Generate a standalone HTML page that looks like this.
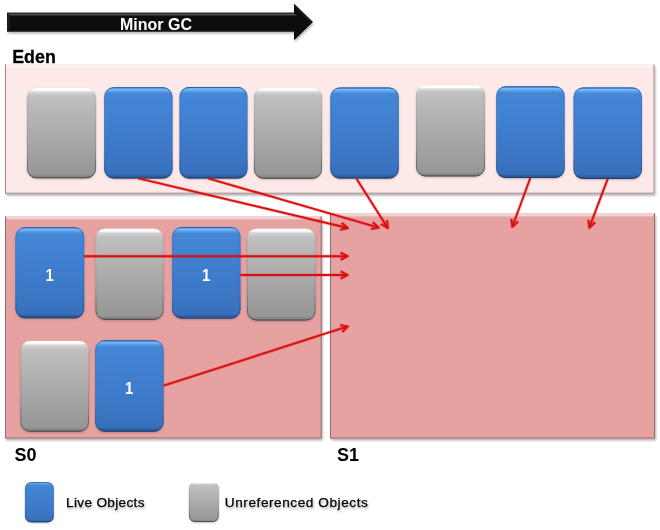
<!DOCTYPE html>
<html><head><meta charset="utf-8"><style>
html,body{margin:0;padding:0;background:#fff;width:660px;height:530px;overflow:hidden}
svg{display:block;will-change:transform}
text{font-family:"Liberation Sans",sans-serif}
.lbl{font-weight:bold;font-size:18px;fill:#000}
.num{font-weight:bold;font-size:16.5px;fill:#fff}
.leg{font-size:13.6px;fill:#000;stroke:#000;stroke-width:0.25}
</style></head><body>
<svg width="660" height="530" viewBox="0 0 660 530">
<defs>
<linearGradient id="gb" x1="0" y1="0" x2="0" y2="1">
<stop offset="0" stop-color="#4588d8"/><stop offset="0.5" stop-color="#3f7dcc"/><stop offset="0.94" stop-color="#3870bd"/><stop offset="1" stop-color="#3064aa"/></linearGradient>
<linearGradient id="gg" x1="0" y1="0" x2="0" y2="1">
<stop offset="0" stop-color="#cacaca"/><stop offset="0.15" stop-color="#bcbcbc"/><stop offset="1" stop-color="#949494"/></linearGradient>
<linearGradient id="hb" x1="0" y1="0" x2="0" y2="1">
<stop offset="0.01" stop-color="#80c4ff" stop-opacity="0"/><stop offset="0.02" stop-color="#80c4ff" stop-opacity="0.95"/><stop offset="0.035" stop-color="#80c4ff" stop-opacity="0.6"/><stop offset="0.07" stop-color="#80c4ff" stop-opacity="0"/>
<stop offset="0.95" stop-color="#000" stop-opacity="0"/><stop offset="1" stop-color="#000" stop-opacity="0.2"/></linearGradient>
<linearGradient id="hg" x1="0" y1="0" x2="0" y2="1">
<stop offset="0" stop-color="#fff" stop-opacity="1"/><stop offset="0.025" stop-color="#fff" stop-opacity="1"/><stop offset="0.045" stop-color="#fff" stop-opacity="0.3"/><stop offset="0.08" stop-color="#fff" stop-opacity="0"/>
<stop offset="0.95" stop-color="#000" stop-opacity="0"/><stop offset="1" stop-color="#000" stop-opacity="0.2"/></linearGradient>
<linearGradient id="rb" x1="0" y1="0" x2="0" y2="1">
<stop offset="0" stop-color="#244f8e" stop-opacity="0.85"/><stop offset="0.08" stop-color="#244f8e" stop-opacity="0.35"/><stop offset="0.7" stop-color="#244f8e" stop-opacity="0.25"/><stop offset="1" stop-color="#1a3560" stop-opacity="0.8"/></linearGradient>
<linearGradient id="rg" x1="0" y1="0" x2="0" y2="1">
<stop offset="0" stop-color="#fff" stop-opacity="0.6"/><stop offset="0.1" stop-color="#777" stop-opacity="0.15"/><stop offset="0.7" stop-color="#555" stop-opacity="0.3"/><stop offset="1" stop-color="#3a3030" stop-opacity="0.8"/></linearGradient>
<filter id="sh" x="-20%" y="-20%" width="140%" height="140%">
<feGaussianBlur in="SourceAlpha" stdDeviation="1"/><feOffset dx="0.3" dy="1" result="o"/>
<feComponentTransfer><feFuncA type="linear" slope="0.22"/></feComponentTransfer>
<feMerge><feMergeNode/><feMergeNode in="SourceGraphic"/></feMerge></filter>
<filter id="shr" x="-5%" y="-5%" width="110%" height="110%">
<feGaussianBlur in="SourceAlpha" stdDeviation="1"/><feOffset dx="1" dy="1.5" result="o"/>
<feComponentTransfer><feFuncA type="linear" slope="0.3"/></feComponentTransfer>
<feMerge><feMergeNode/><feMergeNode in="SourceGraphic"/></feMerge></filter>
<filter id="tsh" x="-5%" y="-30%" width="110%" height="160%">
<feGaussianBlur in="SourceAlpha" stdDeviation="0.8"/><feOffset dx="0.5" dy="1.5" result="o"/>
<feComponentTransfer><feFuncA type="linear" slope="0.3"/></feComponentTransfer>
<feMerge><feMergeNode/><feMergeNode in="SourceGraphic"/></feMerge></filter>
<linearGradient id="tl" x1="0" y1="0" x2="0" y2="1">
<stop offset="0" stop-color="#fff" stop-opacity="0.75"/><stop offset="0.6" stop-color="#fff" stop-opacity="0.5"/><stop offset="1" stop-color="#fff" stop-opacity="0"/></linearGradient>
<linearGradient id="ga" x1="0" y1="0" x2="0" y2="1">
<stop offset="0" stop-color="#1a1a1a"/><stop offset="0.3" stop-color="#333"/><stop offset="0.55" stop-color="#555"/><stop offset="1" stop-color="#0a0a0a"/></linearGradient>
</defs>

<polygon points="7,12.7 294,12.7 294,3.8 312.8,22 294,40.3 294,31.4 7,31.4" fill="#070707" filter="url(#shr)"/>
<polygon points="7,12.7 294,12.7 297,16.2 10,16.2" fill="url(#ga)"/>
<polygon points="294,3.8 312.8,22 310,22 294.8,7.3" fill="#1c1c1c"/>
<polygon points="7,12.7 10,16.2 10,28 7,31.4" fill="#1c1c1c"/>
<line x1="7" y1="30.9" x2="294" y2="30.9" stroke="#161616" stroke-width="1"/>
<text x="0" y="0" transform="translate(120,30.2) scale(1,1.08)" style="font-weight:bold;font-size:16px;fill:#fff">Minor GC</text>
<text x="12.2" y="62.8" class="lbl" stroke="#000" stroke-width="0.3" textLength="43.6" lengthAdjust="spacingAndGlyphs">Eden</text>
<rect x="5" y="64.5" width="649.5" height="129.2" fill="#fde9e8" filter="url(#shr)"/><polygon points="5,64.5 654.5,64.5 650.7,68.3 8.8,68.3" fill="url(#tl)"/><path d="M5.5,64.5 V193.2 H654.0 V64.5" fill="none" stroke="#5a4848" stroke-opacity="0.6" stroke-width="1"/><line x1="5" y1="64.9" x2="654.5" y2="64.9" stroke="#8a6a6a" stroke-opacity="0.15" stroke-width="0.8"/>
<rect x="5" y="216.3" width="316.7" height="222.2" fill="#e6a1a1" filter="url(#shr)"/><polygon points="5,216.3 321.7,216.3 317.9,220.10000000000002 8.8,220.10000000000002" fill="url(#tl)"/><path d="M5.5,216.3 V438.0 H321.2 V216.3" fill="none" stroke="#5a4848" stroke-opacity="0.6" stroke-width="1"/><line x1="5" y1="216.70000000000002" x2="321.7" y2="216.70000000000002" stroke="#8a6a6a" stroke-opacity="0.15" stroke-width="0.8"/>
<rect x="330" y="213.4" width="325" height="225.1" fill="#e6a1a1" filter="url(#shr)"/><polygon points="330,213.4 655,213.4 651.2,217.20000000000002 333.8,217.20000000000002" fill="url(#tl)"/><path d="M330.5,213.4 V438.0 H654.5 V213.4" fill="none" stroke="#5a4848" stroke-opacity="0.6" stroke-width="1"/><line x1="330" y1="213.8" x2="655" y2="213.8" stroke="#8a6a6a" stroke-opacity="0.15" stroke-width="0.8"/>
<text x="14.5" y="461" class="lbl">S0</text>
<text x="337" y="461" class="lbl">S1</text>
<rect x="27" y="88" width="69" height="90.3" rx="9.5" fill="url(#gg)" filter="url(#sh)"/><rect x="27" y="88" width="69" height="90.3" rx="9.5" fill="url(#hg)"/><rect x="27.45" y="88.45" width="68.1" height="89.39999999999999" rx="9.05" fill="none" stroke="url(#rg)" stroke-width="0.9"/>
<rect x="104.2" y="87.2" width="68.4" height="91.3" rx="9.5" fill="url(#gb)" filter="url(#sh)"/><rect x="104.2" y="87.2" width="68.4" height="91.3" rx="9.5" fill="url(#hb)"/><rect x="104.65" y="87.65" width="67.5" height="90.39999999999999" rx="9.05" fill="none" stroke="url(#rb)" stroke-width="0.9"/>
<rect x="179.5" y="87" width="68" height="91.5" rx="9.5" fill="url(#gb)" filter="url(#sh)"/><rect x="179.5" y="87" width="68" height="91.5" rx="9.5" fill="url(#hb)"/><rect x="179.95" y="87.45" width="67.1" height="90.6" rx="9.05" fill="none" stroke="url(#rb)" stroke-width="0.9"/>
<rect x="254" y="87.8" width="68" height="91" rx="9.5" fill="url(#gg)" filter="url(#sh)"/><rect x="254" y="87.8" width="68" height="91" rx="9.5" fill="url(#hg)"/><rect x="254.45" y="88.25" width="67.1" height="90.1" rx="9.05" fill="none" stroke="url(#rg)" stroke-width="0.9"/>
<rect x="330.3" y="87.4" width="68.5" height="91.2" rx="9.5" fill="url(#gb)" filter="url(#sh)"/><rect x="330.3" y="87.4" width="68.5" height="91.2" rx="9.5" fill="url(#hb)"/><rect x="330.75" y="87.85000000000001" width="67.6" height="90.3" rx="9.05" fill="none" stroke="url(#rb)" stroke-width="0.9"/>
<rect x="416" y="85.2" width="69" height="91.2" rx="9.5" fill="url(#gg)" filter="url(#sh)"/><rect x="416" y="85.2" width="69" height="91.2" rx="9.5" fill="url(#hg)"/><rect x="416.45" y="85.65" width="68.1" height="90.3" rx="9.05" fill="none" stroke="url(#rg)" stroke-width="0.9"/>
<rect x="496.2" y="86.3" width="68.5" height="91.7" rx="9.5" fill="url(#gb)" filter="url(#sh)"/><rect x="496.2" y="86.3" width="68.5" height="91.7" rx="9.5" fill="url(#hb)"/><rect x="496.65" y="86.75" width="67.6" height="90.8" rx="9.05" fill="none" stroke="url(#rb)" stroke-width="0.9"/>
<rect x="573.5" y="87.4" width="68.5" height="91.6" rx="9.5" fill="url(#gb)" filter="url(#sh)"/><rect x="573.5" y="87.4" width="68.5" height="91.6" rx="9.5" fill="url(#hb)"/><rect x="573.95" y="87.85000000000001" width="67.6" height="90.69999999999999" rx="9.05" fill="none" stroke="url(#rb)" stroke-width="0.9"/>
<rect x="15.4" y="227.2" width="68.8" height="91" rx="9.5" fill="url(#gb)" filter="url(#sh)"/><rect x="15.4" y="227.2" width="68.8" height="91" rx="9.5" fill="url(#hb)"/><rect x="15.85" y="227.64999999999998" width="67.89999999999999" height="90.1" rx="9.05" fill="none" stroke="url(#rb)" stroke-width="0.9"/><text x="0" y="0" transform="translate(49.5,281.1) scale(0.9,1)" text-anchor="middle" class="num">1</text>
<rect x="95.5" y="228.8" width="68" height="91" rx="9.5" fill="url(#gg)" filter="url(#sh)"/><rect x="95.5" y="228.8" width="68" height="91" rx="9.5" fill="url(#hg)"/><rect x="95.95" y="229.25" width="67.1" height="90.1" rx="9.05" fill="none" stroke="url(#rg)" stroke-width="0.9"/>
<rect x="172.2" y="227" width="68.3" height="91.6" rx="9.5" fill="url(#gb)" filter="url(#sh)"/><rect x="172.2" y="227" width="68.3" height="91.6" rx="9.5" fill="url(#hb)"/><rect x="172.64999999999998" y="227.45" width="67.39999999999999" height="90.69999999999999" rx="9.05" fill="none" stroke="url(#rb)" stroke-width="0.9"/><text x="0" y="0" transform="translate(206.0,281.2) scale(0.9,1)" text-anchor="middle" class="num">1</text>
<rect x="247" y="228.8" width="68.5" height="91.7" rx="9.5" fill="url(#gg)" filter="url(#sh)"/><rect x="247" y="228.8" width="68.5" height="91.7" rx="9.5" fill="url(#hg)"/><rect x="247.45" y="229.25" width="67.6" height="90.8" rx="9.05" fill="none" stroke="url(#rg)" stroke-width="0.9"/>
<rect x="20.5" y="340.9" width="68.4" height="90.8" rx="9.5" fill="url(#gg)" filter="url(#sh)"/><rect x="20.5" y="340.9" width="68.4" height="90.8" rx="9.5" fill="url(#hg)"/><rect x="20.95" y="341.34999999999997" width="67.5" height="89.89999999999999" rx="9.05" fill="none" stroke="url(#rg)" stroke-width="0.9"/>
<rect x="95.2" y="340.3" width="68.4" height="91.4" rx="9.5" fill="url(#gb)" filter="url(#sh)"/><rect x="95.2" y="340.3" width="68.4" height="91.4" rx="9.5" fill="url(#hb)"/><rect x="95.65" y="340.75" width="67.5" height="90.5" rx="9.05" fill="none" stroke="url(#rb)" stroke-width="0.9"/><text x="0" y="0" transform="translate(129.1,394.4) scale(0.9,1)" text-anchor="middle" class="num">1</text>
<rect x="25" y="482.3" width="28.8" height="40" rx="6" fill="url(#gb)" filter="url(#sh)"/><rect x="25" y="482.3" width="28.8" height="40" rx="6" fill="url(#hb)"/><rect x="25.45" y="482.75" width="27.900000000000002" height="39.1" rx="5.55" fill="none" stroke="url(#rb)" stroke-width="0.9"/>
<rect x="189" y="482" width="29.8" height="40" rx="6" fill="url(#gg)" filter="url(#sh)"/><rect x="189" y="482" width="29.8" height="40" rx="6" fill="url(#hg)"/><rect x="189.45" y="482.45" width="28.900000000000002" height="39.1" rx="5.55" fill="none" stroke="url(#rg)" stroke-width="0.9"/>
<g filter="url(#tsh)"><text x="66" y="506.8" class="leg" textLength="78.5" lengthAdjust="spacing">Live Objects</text>
<text x="224.8" y="506.8" class="leg" textLength="143" lengthAdjust="spacing">Unreferenced Objects</text></g>
<g stroke="#e01010" stroke-opacity="0.25" stroke-width="3.4" stroke-linecap="butt" stroke-linejoin="round">
<line x1="138.5" y1="178.3" x2="346.83" y2="227.77"/><polyline points="340.03,229.89 347.8,228 341.70,222.82" fill="none"/>
<line x1="208" y1="178.3" x2="377.74" y2="227.32"/><polyline points="370.84,229.11 378.7,227.6 372.86,222.13" fill="none"/>
<line x1="356.4" y1="178.6" x2="387.26" y2="227.26"/><polyline points="380.91,224.03 387.8,228.1 387.05,220.14" fill="none"/>
<line x1="530.3" y1="178" x2="512.65" y2="225.96"/><polyline points="511.35,218.96 512.3,226.9 518.17,221.47" fill="none"/>
<line x1="607.7" y1="178.9" x2="589.65" y2="226.76"/><polyline points="588.42,219.75 589.3,227.7 595.21,222.31" fill="none"/>
<line x1="84.2" y1="256.3" x2="346.70" y2="256.20"/><polyline points="340.57,259.83 347.7,256.2 340.57,252.57" fill="none"/>
<line x1="240.5" y1="275" x2="346.70" y2="275.00"/><polyline points="340.57,278.63 347.7,275.0 340.57,271.37" fill="none"/>
<line x1="163.6" y1="385.7" x2="346.95" y2="326.71"/><polyline points="342.23,332.04 347.9,326.4 340.00,325.13" fill="none"/>
</g>
<g stroke="#dc0f0f" stroke-width="1.9" stroke-linecap="butt" stroke-linejoin="round">
<line x1="138.5" y1="178.3" x2="346.83" y2="227.77"/><polyline points="340.03,229.89 347.8,228 341.70,222.82" fill="none"/>
<line x1="208" y1="178.3" x2="377.74" y2="227.32"/><polyline points="370.84,229.11 378.7,227.6 372.86,222.13" fill="none"/>
<line x1="356.4" y1="178.6" x2="387.26" y2="227.26"/><polyline points="380.91,224.03 387.8,228.1 387.05,220.14" fill="none"/>
<line x1="530.3" y1="178" x2="512.65" y2="225.96"/><polyline points="511.35,218.96 512.3,226.9 518.17,221.47" fill="none"/>
<line x1="607.7" y1="178.9" x2="589.65" y2="226.76"/><polyline points="588.42,219.75 589.3,227.7 595.21,222.31" fill="none"/>
<line x1="84.2" y1="256.3" x2="346.70" y2="256.20"/><polyline points="340.57,259.83 347.7,256.2 340.57,252.57" fill="none"/>
<line x1="240.5" y1="275" x2="346.70" y2="275.00"/><polyline points="340.57,278.63 347.7,275.0 340.57,271.37" fill="none"/>
<line x1="163.6" y1="385.7" x2="346.95" y2="326.71"/><polyline points="342.23,332.04 347.9,326.4 340.00,325.13" fill="none"/>
</g>
</svg></body></html>
